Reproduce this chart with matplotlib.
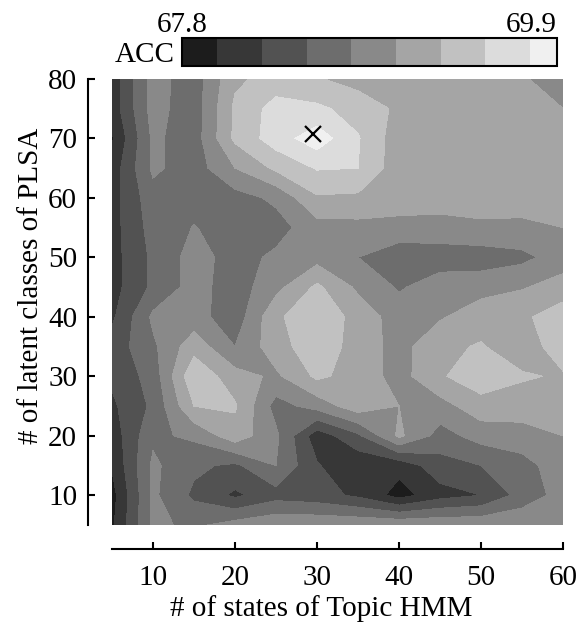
import matplotlib
matplotlib.use("Agg")
import matplotlib.pyplot as plt
import numpy as np

plt.rcParams['font.family'] = ['Liberation Serif', 'DejaVu Serif']

# grid of the search: states of Topic HMM (x) and latent classes of PLSA (y)
n_states = [5, 10, 15, 20, 25, 30, 35, 40, 45, 50, 55, 60]
n_classes = [80, 75, 70, 65, 60, 55, 50, 45, 40, 35, 30, 25, 20, 15, 10, 5]

# accuracy, one row per number of latent classes (top row = 80)
acc = [
    [68.10, 68.85, 68.62, 69.20, 69.35, 69.27, 69.15, 69.15, 69.15, 69.12, 69.02, 68.90],
    [68.10, 68.85, 68.60, 69.30, 69.60, 69.55, 69.40, 69.20, 69.15, 69.12, 69.10, 69.00],
    [67.97, 68.80, 68.62, 69.30, 69.63, 69.89, 69.52, 69.10, 69.15, 69.12, 69.10, 69.10],
    [68.10, 68.80, 68.62, 69.00, 69.30, 69.52, 69.50, 69.10, 69.15, 69.12, 69.10, 69.10],
    [68.15, 68.65, 68.65, 68.65, 68.80, 69.22, 69.20, 69.15, 69.12, 69.12, 69.10, 69.10],
    [68.15, 68.60, 68.76, 68.65, 68.65, 68.90, 68.92, 68.90, 68.90, 68.95, 68.95, 69.00],
    [68.15, 68.55, 68.85, 68.65, 68.80, 68.90, 68.75, 68.60, 68.62, 68.62, 68.68, 68.88],
    [68.15, 68.55, 68.85, 68.62, 68.92, 69.30, 68.95, 68.72, 68.88, 68.90, 68.98, 69.10],
    [68.20, 68.80, 68.85, 68.60, 69.20, 69.45, 69.15, 68.88, 68.97, 69.15, 69.20, 69.40],
    [68.35, 68.70, 69.15, 68.75, 69.15, 69.40, 69.15, 68.90, 69.20, 69.27, 69.10, 69.40],
    [68.30, 68.60, 69.45, 69.10, 68.95, 69.30, 69.15, 68.90, 69.22, 69.40, 69.28, 69.22],
    [68.20, 68.55, 69.25, 69.28, 68.65, 68.85, 69.15, 69.00, 68.90, 69.15, 69.12, 69.15],
    [68.10, 68.70, 68.80, 69.15, 68.80, 68.10, 68.45, 69.05, 68.65, 68.85, 68.90, 69.00],
    [68.02, 68.80, 68.55, 68.45, 68.75, 68.27, 68.05, 68.08, 68.40, 68.50, 68.65, 68.90],
    [67.90, 68.80, 68.45, 68.20, 68.40, 68.35, 68.20, 67.90, 68.15, 68.25, 68.60, 68.85],
    [67.95, 68.80, 68.70, 68.85, 68.95, 68.95, 68.95, 68.95, 68.95, 68.95, 68.95, 68.90],
]

levels = [67.8, 68.0, 68.25, 68.5, 68.75, 69.0, 69.25, 69.5, 69.75, 69.9]
grays = ['#1c1c1c', '#373737', '#525252', '#6d6d6d', '#898989',
         '#a5a5a5', '#c1c1c1', '#dcdcdc', '#f0f0f0']

best_state, best_class = 29.5, 70.7

X, Y = np.meshgrid(n_states, n_classes)
Z = np.clip(np.array(acc), 67.81, 69.89)

fig = plt.figure(figsize=(5.77, 6.31), dpi=100)
ax = fig.add_axes([0.194, 0.168, 0.782, 0.707])
cs = ax.contourf(X, Y, Z, levels=levels, colors=grays)
ax.plot(best_state, best_class, 'x', color='black', markersize=11, mew=1.6)

ax.set_xlim(5, 60)
ax.set_ylim(5, 80)
ax.set_xticks([10, 20, 30, 40, 50, 60])
ax.set_yticks([10, 20, 30, 40, 50, 60, 70, 80])
for side in ['top', 'right']:
    ax.spines[side].set_visible(False)
ax.spines['left'].set_position(('outward', 17))
ax.spines['bottom'].set_position(('outward', 17))
ax.spines['left'].set_linewidth(1.5)
ax.spines['bottom'].set_linewidth(1.5)
ax.tick_params(axis='both', direction='in', length=5, width=1.5, labelsize=21)
ax.tick_params(axis='x', pad=12)
ax.tick_params(axis='y', pad=8)
ax.set_xlabel('# of states of Topic HMM', fontsize=21)
ax.set_ylabel('# of latent classes of PLSA', fontsize=21)
ax.xaxis.set_label_coords(0.463, -0.157)
ax.yaxis.set_label_coords(-0.15, 0.536)

cax = fig.add_axes([0.315, 0.895, 0.650, 0.044])
cb = fig.colorbar(cs, cax=cax, orientation='horizontal', spacing='proportional')
cb.set_ticks([])
cb.outline.set_linewidth(1.5)
cax.text(0, 1.0, '67.8', transform=cax.transAxes, ha='center', va='bottom', fontsize=21)
cax.text(1, 1.0, '69.9', transform=cax.transAxes, ha='right', va='bottom', fontsize=21)
cax.text(-0.02, 0.42, 'ACC', transform=cax.transAxes, ha='right', va='center', fontsize=21)

fig.savefig('out.png', dpi=100)
